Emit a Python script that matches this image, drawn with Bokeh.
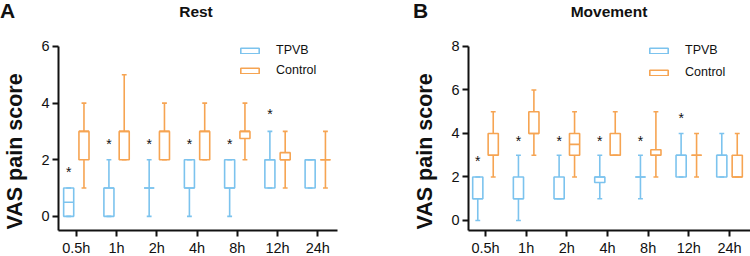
import numpy as np
from bokeh.plotting import figure
from bokeh.layouts import row, column
from bokeh.models import FixedTicker, Legend, LegendItem, Range1d, Div
from bokeh.core.properties import value
from bokeh.embed import file_html
from bokeh.resources import INLINE

times = ["0.5h", "1h", "2h", "4h", "8h", "12h", "24h"]

# Rest (panel A)
rest_tpvb_min = [0, 0, 0, 0, 0, 1, 1]
rest_tpvb_q1 = [0, 0, 1, 1, 1, 1, 1]
rest_tpvb_med = [0.5, 1, 1, 1, 1, 2, 2]
rest_tpvb_q3 = [1, 1, 1, 2, 2, 2, 2]
rest_tpvb_max = [1, 2, 2, 2, 2, 3, 2]

rest_ctrl_min = [1, 2, 2, 2, 2, 1, 1]
rest_ctrl_q1 = [2, 2, 2, 2, 2.75, 2, 2]
rest_ctrl_med = [3, 3, 3, 3, 3, 2, 2]
rest_ctrl_q3 = [3, 3, 3, 3, 3, 2.25, 2]
rest_ctrl_max = [4, 5, 4, 4, 4, 3, 3]

rest_star_y = [1.7, 2.7, 2.7, 2.7, 2.7, 3.75]

# Movement (panel B)
mov_tpvb_min = [0, 0, 1, 1, 1, 2, 2]
mov_tpvb_q1 = [1, 1, 1, 1.75, 2, 2, 2]
mov_tpvb_med = [1, 1, 1, 2, 2, 3, 3]
mov_tpvb_q3 = [2, 2, 2, 2, 2, 3, 3]
mov_tpvb_max = [2, 3, 3, 3, 3, 4, 4]

mov_ctrl_min = [2, 3, 2, 3, 2, 2, 2]
mov_ctrl_q1 = [3, 4, 3, 3, 3, 3, 2]
mov_ctrl_med = [3, 4, 3.5, 3, 3, 3, 2]
mov_ctrl_q3 = [4, 5, 4, 4, 3.25, 3, 3]
mov_ctrl_max = [5, 6, 5, 5, 5, 4, 4]

mov_star_y = [2.9, 3.85, 3.85, 3.85, 3.85, 4.9]

BLUE = "#7cc3ee"
ORANGE = "#f6a452"
FONT = "Liberation Sans"
BOX_W = 0.25
CAP_W = 0.12
OFF = 0.19
NB = "\u00a0"


def panel(yticks, x_range, y_range, y_top, border_left, border_right,
          tpvb, ctrl, star_y, legend_loc, legend_spacing):
    # frame: 200 px tall (abs y 30..230); generous bottom border so Bokeh never
    # shrinks the frame; anything past the window bottom is clipped.
    p = figure(width=375, height=240, output_backend="svg", toolbar_location=None,
               x_range=Range1d(*x_range), y_range=Range1d(y_range[0], y_range[1]))
    p.min_border_left = border_left
    p.min_border_right = border_right
    p.min_border_top = 0
    p.min_border_bottom = 40
    p.outline_line_color = None
    p.grid.visible = False

    renderers = []
    for data, off, col in ((tpvb, -OFF, BLUE), (ctrl, OFF, ORANGE)):
        mn, q1, med, q3, mx = [np.array(a, dtype=float) for a in data]
        x = np.arange(len(times)) + off
        p.segment(x, q3, x, mx, line_color=col, line_width=1.6)
        p.segment(x, mn, x, q1, line_color=col, line_width=1.6)
        p.segment(x - CAP_W / 2, mx, x + CAP_W / 2, mx, line_color=col, line_width=1.6)
        p.segment(x - CAP_W / 2, mn, x + CAP_W / 2, mn, line_color=col, line_width=1.6)
        r = p.vbar(x=x, top=q3, bottom=q1, width=BOX_W, fill_alpha=0,
                   line_color=col, line_width=1.6)
        p.segment(x - BOX_W / 2, med, x + BOX_W / 2, med, line_color=col, line_width=1.6)
        renderers.append(r)

    sx = np.arange(len(star_y)) - OFF
    p.text(x=sx, y=star_y, text=["*"] * len(star_y), text_align="center",
           text_baseline="middle", text_font=value(FONT), text_font_size="14px",
           text_color="#111111", y_offset=4)

    legend = Legend(items=[LegendItem(label="TPVB", renderers=[renderers[0]]),
                           LegendItem(label="Control", renderers=[renderers[1]])],
                    location=legend_loc, glyph_width=23, glyph_height=7,
                    label_standoff=15, spacing=legend_spacing, padding=0, margin=0,
                    label_height=14, border_line_alpha=0, background_fill_alpha=0,
                    label_text_font=FONT, label_text_font_size="12.5px",
                    label_text_color="#111111")
    p.add_layout(legend)

    for ax in (p.xaxis, p.yaxis):
        ax.axis_line_width = 2
        ax.axis_line_color = "#111111"
        ax.major_tick_line_width = 2
        ax.major_tick_line_color = "#111111"
        ax.major_tick_out = 6
        ax.major_tick_in = 0
        ax.minor_tick_line_color = None
        ax.major_label_text_font = FONT
        ax.major_label_text_color = "#111111"
        ax.major_label_standoff = 3

    p.xaxis.major_label_standoff = 3
    p.xaxis.major_label_text_font_size = "14.5px"
    p.yaxis.major_label_text_font_size = "14.5px"
    p.xaxis.ticker = FixedTicker(ticks=list(range(len(times))))
    p.xaxis.major_label_overrides = {i: t for i, t in enumerate(times)}
    p.yaxis.ticker = FixedTicker(ticks=yticks)
    p.yaxis.bounds = (y_range[0], y_top)
    p.yaxis.axis_label = "VAS pain score" + NB * 7
    p.yaxis.axis_label_text_font = FONT
    p.yaxis.axis_label_text_font_style = "bold"
    p.yaxis.axis_label_text_font_size = "21.5px"
    p.yaxis.axis_label_text_color = "#111111"
    p.yaxis.axis_label_standoff = 11
    return p


def header(letter, letter_left, title, frame_left):
    html = (
        f'<div style="position:relative;width:375px;height:30px;'
        f"font-family:'{FONT}';color:#111111;\">"
        f'<div style="position:absolute;left:{letter_left}px;top:0px;font-size:21px;'
        f'font-weight:bold;line-height:22px;">{letter}</div>'
        f'<div style="position:absolute;left:{frame_left}px;width:282px;top:3px;'
        f'text-align:center;font-size:15.5px;font-weight:bold;line-height:18px;">'
        f'{title}</div></div>'
    )
    return Div(text=html, width=375, height=30, margin=0)


# frame spans abs y 30..230 (200 px); axis scale 28.33 px/unit (A), 21.75 (B)
pA = panel([0, 2, 4, 6], (-0.443, 6.49), (-0.5, 6 + 16 / 28.33), 6, 55, 38,
           (rest_tpvb_min, rest_tpvb_q1, rest_tpvb_med, rest_tpvb_q3, rest_tpvb_max),
           (rest_ctrl_min, rest_ctrl_q1, rest_ctrl_med, rest_ctrl_q3, rest_ctrl_max),
           rest_star_y, (180, 153), 6)
pB = panel([0, 2, 4, 6, 8], (-0.418, 6.516), (-0.46, 8 + 16 / 21.75), 8, 93, 0,
           (mov_tpvb_min, mov_tpvb_q1, mov_tpvb_med, mov_tpvb_q3, mov_tpvb_max),
           (mov_ctrl_min, mov_ctrl_q1, mov_ctrl_med, mov_ctrl_q3, mov_ctrl_max),
           mov_star_y, (179, 151), 8)

hA = header("A", 0, "Rest", 55)
hB = header("B", 38, "Movement", 93)

layout = column(row(hA, hB, spacing=0), row(pA, pB, spacing=0), spacing=0,
                width=750, height=256, styles={"overflow": "hidden"})
open("out.html", "w").write(file_html(layout, INLINE))
